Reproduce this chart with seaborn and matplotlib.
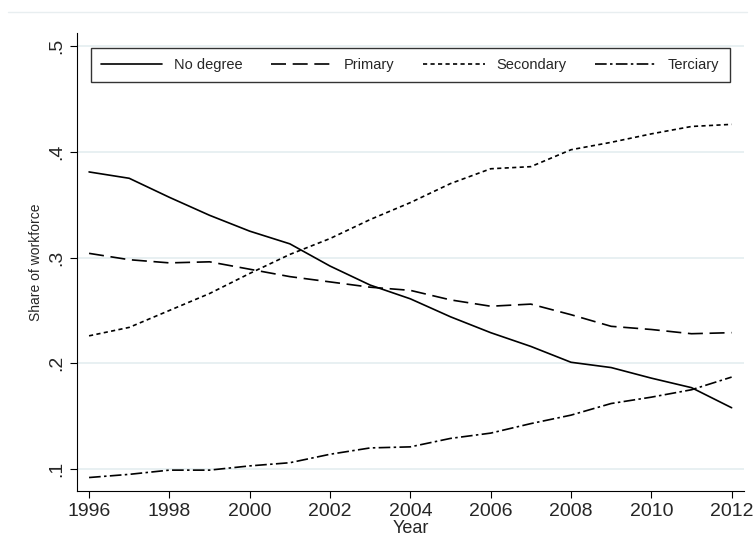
import matplotlib
matplotlib.use("Agg")
import matplotlib.pyplot as plt
import pandas as pd
import seaborn as sns

years = list(range(1996, 2013))
no_degree = [0.381, 0.375, 0.357, 0.340, 0.325, 0.313, 0.292, 0.274, 0.261, 0.244,
             0.229, 0.216, 0.201, 0.196, 0.186, 0.177, 0.158]
primary = [0.304, 0.298, 0.295, 0.296, 0.289, 0.282, 0.277, 0.272, 0.269, 0.260,
           0.254, 0.256, 0.246, 0.235, 0.232, 0.228, 0.229]
secondary = [0.226, 0.234, 0.250, 0.266, 0.285, 0.303, 0.318, 0.336, 0.352, 0.370,
             0.384, 0.386, 0.402, 0.409, 0.417, 0.424, 0.426]
terciary = [0.092, 0.095, 0.099, 0.099, 0.103, 0.106, 0.114, 0.120, 0.121, 0.129,
            0.134, 0.143, 0.151, 0.162, 0.168, 0.175, 0.187]

series = {"No degree": no_degree, "Primary": primary,
          "Secondary": secondary, "Terciary": terciary}
df = pd.DataFrame([(y, k, v) for k, vals in series.items() for y, v in zip(years, vals)],
                  columns=["Year", "Level", "Share"])

sns.set_style("white")
plt.rcParams["font.family"] = ["Liberation Sans", "DejaVu Sans"]

fig = plt.figure(figsize=(7.55, 5.57), dpi=100)
ax = fig.add_axes([0.102, 0.118, 0.883, 0.822])
styles = {"No degree": "-", "Primary": (0, (9, 4)),
          "Secondary": (0, (2.5, 2)), "Terciary": (0, (7, 2, 1.5, 2))}
for name in series:
    sns.lineplot(data=df[df["Level"] == name], x="Year", y="Share", ax=ax,
                 color="black", lw=1.2, linestyle=styles[name], label=name)

ax.set_xlim(1995.7, 2012.3)
ax.set_ylim(0.079, 0.512)
ax.set_xticks(range(1996, 2013, 2))
ax.set_yticks([0.1, 0.2, 0.3, 0.4, 0.5])
ax.set_yticklabels([".1", ".2", ".3", ".4", ".5"], rotation=90, va="center")
ax.yaxis.grid(True, color="#e4eef0", lw=1.2)
ax.set_axisbelow(True)
for s in ["top", "right"]:
    ax.spines[s].set_visible(False)
for s in ["left", "bottom"]:
    ax.spines[s].set_color("black")
ax.tick_params(axis="both", which="both", direction="out", length=5, color="black",
               left=True, bottom=True, labelsize=14)
ax.set_xlabel("Year", fontsize=13, labelpad=0)
ax.set_ylabel("Share of workforce", fontsize=10)

leg = ax.legend(loc="upper left", ncol=4, bbox_to_anchor=(0.01, 0.985, 0.98, 0.0),
                mode="expand", frameon=True, fancybox=False, edgecolor="black",
                fontsize=10.5, handlelength=4.2, borderpad=0.7)
leg.get_frame().set_linewidth(1.0)

fig.add_artist(plt.Line2D([0.01, 0.99], [0.978, 0.978], color="#e8eef0", lw=1))
fig.savefig("out.png", dpi=100, facecolor="white")
